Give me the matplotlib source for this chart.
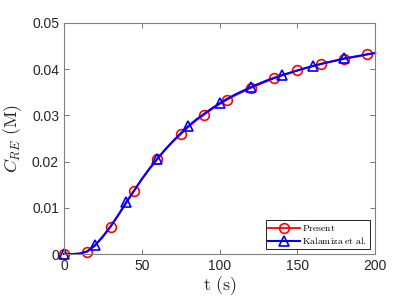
import numpy as np
import matplotlib
matplotlib.use("Agg")
import matplotlib.pyplot as plt

plt.rcParams['mathtext.fontset'] = 'cm'
plt.rcParams['font.family'] = ['Liberation Sans', 'DejaVu Sans']

# time grid (s), 5 s spacing
t = [0, 5, 10, 15, 20, 25, 30, 35, 40, 45, 50, 55, 60, 65, 70, 75, 80, 85, 90, 95,
     100, 105, 110, 115, 120, 125, 130, 135, 140, 145, 150, 155, 160, 165, 170, 175,
     180, 185, 190, 195, 200]

# present model, concentration (M)
c_present = [0.0, 0.0, 0.0001, 0.0005, 0.0018, 0.0037, 0.0059, 0.0084, 0.0110, 0.0136,
             0.0161, 0.0184, 0.0205, 0.0225, 0.0243, 0.0259, 0.0275, 0.0289, 0.0301, 0.0313,
             0.0324, 0.0334, 0.0343, 0.0351, 0.0359, 0.0366, 0.0373, 0.0380, 0.0386, 0.0391,
             0.0397, 0.0402, 0.0406, 0.0411, 0.0415, 0.0418, 0.0422, 0.0425, 0.0428, 0.0432,
             0.0434]

# Kalamiza et al. (M)
c_kalamiza = [0.0, 0.0, 0.0001, 0.0006, 0.0019, 0.0038, 0.0060, 0.0085, 0.0112, 0.0137,
              0.0162, 0.0185, 0.0206, 0.0226, 0.0244, 0.0261, 0.0277, 0.0291, 0.0303, 0.0315,
              0.0326, 0.0336, 0.0345, 0.0353, 0.0361, 0.0368, 0.0375, 0.0381, 0.0387, 0.0392,
              0.0397, 0.0402, 0.0407, 0.0411, 0.0415, 0.0419, 0.0423, 0.0426, 0.0429, 0.0432,
              0.0435]

labels = [r'$\mathrm{Present}$', r'$\mathrm{Kalamiza}$ $\mathrm{et}$ $\mathrm{al.}$']

fig = plt.figure(figsize=(4.15, 3.01), dpi=100)
ax = fig.add_axes([0.154, 0.156, 0.75, 0.768])

ax.plot(t, c_present, color='red', lw=1.3, marker='o', markevery=slice(0, 40, 3), ms=7,
        mfc='none', mec='red', mew=1.2, label=labels[0], clip_on=False)
ax.plot(t, c_kalamiza, color='blue', lw=1.5, marker='^', markevery=slice(0, 40, 4), ms=7.5,
        mfc='none', mec='blue', mew=1.2, label=labels[1], clip_on=False)

ax.set_xlim(0, 200)
ax.set_ylim(0, 0.05)
ax.set_xticks([0, 50, 100, 150, 200])
ax.set_yticks([0, 0.01, 0.02, 0.03, 0.04, 0.05])
ax.set_yticklabels(['0', '0.01', '0.02', '0.03', '0.04', '0.05'])

axcol = '#262626'
for s in ax.spines.values():
    s.set_color('#808080')
    s.set_linewidth(0.8)
ax.tick_params(direction='in', top=True, right=True, length=3.5, width=0.6,
               color='#606060', labelcolor=axcol, labelsize=10)

ax.set_xlabel(r'$\mathrm{t\ (s)}$', fontsize=13, color=axcol, labelpad=1)
ax.set_ylabel(r'$C_{RE}\ \mathrm{(M)}$', fontsize=13, color=axcol, labelpad=6)

leg = ax.legend(loc='lower right', fontsize=7, fancybox=False, framealpha=1,
                edgecolor='black', handlelength=3.2, borderpad=0.3,
                labelspacing=0.2, handletextpad=0.3, borderaxespad=0.5)
leg.get_frame().set_linewidth(0.6)

fig.savefig('out.png', dpi=100)
